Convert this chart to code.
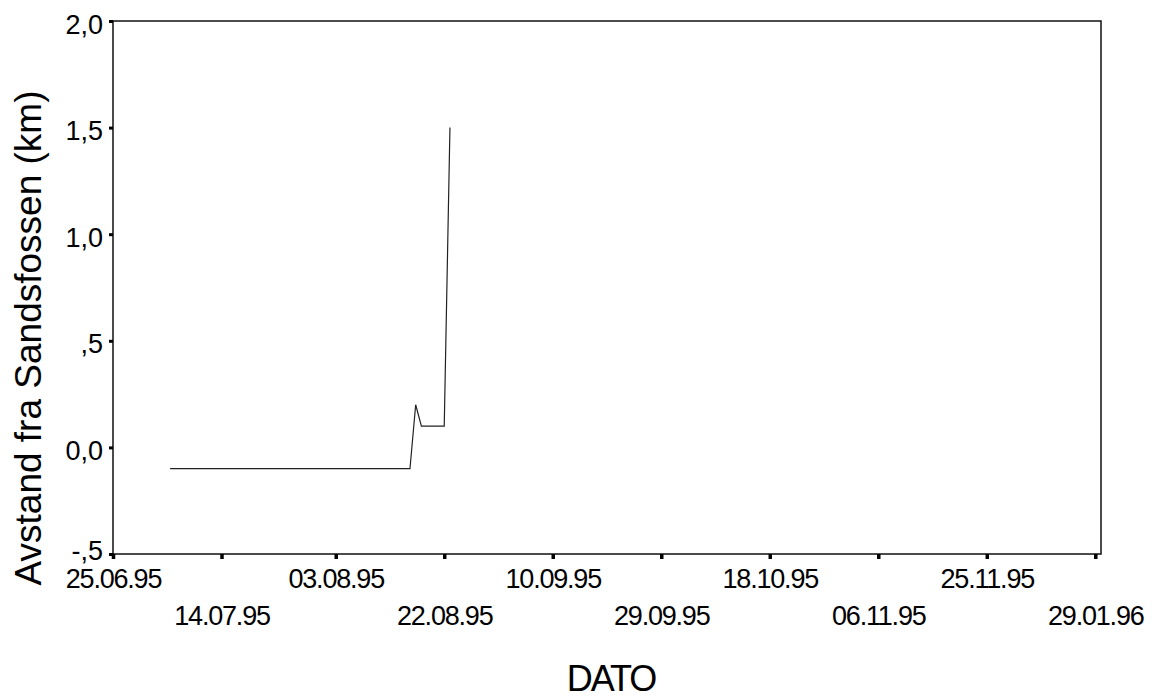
<!DOCTYPE html>
<html>
<head>
<meta charset="utf-8">
<script src="https://cdn.jsdelivr.net/npm/d3@7"></script>
<style>
  body { margin: 0; background: #fff; }
  text { font-family: "Liberation Sans", Arial, sans-serif; fill: #000; }
</style>
</head>
<body>
<div class="container"></div>
<script>
// data
var dates = ['05.07.95', '16.08.95', '17.08.95', '18.08.95', '22.08.95', '23.08.95'];
var avstand = [-0.1, -0.1, 0.2, 0.1, 0.1, 1.5];

var xTickDates = ['25.06.95', '14.07.95', '03.08.95', '22.08.95', '10.09.95',
  '29.09.95', '18.10.95', '06.11.95', '25.11.95', '14.12.95'];
var xTickLabels = ['25.06.95', '14.07.95', '03.08.95', '22.08.95', '10.09.95',
  '29.09.95', '18.10.95', '06.11.95', '25.11.95', '29.01.96'];
var yTicks = [-0.5, 0, 0.5, 1, 1.5, 2];
var yTickLabels = ['-,5', '0,0', ',5', '1,0', '1,5', '2,0'];

var parse = d3.timeParse('%d.%m.%y');

var width = 1152,
  height = 698;
var margin = { top: 21, right: 51, bottom: 144, left: 113 };

var svg = d3
  .select('.container')
  .append('svg')
  .attr('width', width)
  .attr('height', height);

var x = d3
  .scaleTime()
  .domain([parse('25.06.95'), parse('15.12.95')])
  .range([margin.left, width - margin.right]);

var y = d3
  .scaleLinear()
  .domain([-0.5, 2])
  .range([height - margin.bottom, margin.top]);

// frame
svg
  .append('rect')
  .attr('x', x.range()[0])
  .attr('y', y.range()[1])
  .attr('width', x.range()[1] - x.range()[0])
  .attr('height', y.range()[0] - y.range()[1])
  .attr('fill', 'none')
  .attr('stroke', '#111')
  .attr('stroke-width', 1.5);

// y axis
var yAxis = d3
  .axisLeft(y)
  .tickValues(yTicks)
  .tickSize(4)
  .tickPadding(6)
  .tickFormat(function (d, i) {
    return yTickLabels[i];
  });

var gy = svg
  .append('g')
  .attr('transform', 'translate(' + margin.left + ',0)')
  .call(yAxis);
gy.select('.domain').remove();
gy.selectAll('.tick line').attr('stroke', '#000').attr('stroke-width', 3);
gy.selectAll('.tick text')
  .attr('font-size', 27)
  .attr('dy', function (d, i) {
    return i === 0 ? '0.2em' : '0.45em';
  })
  .style('font-family', '"Liberation Sans", Arial, sans-serif');

// x axis
var xAxis = d3
  .axisBottom(x)
  .tickValues(xTickDates.map(parse))
  .tickSize(5)
  .tickFormat(function (d, i) {
    return xTickLabels[i];
  });

var gx = svg
  .append('g')
  .attr('transform', 'translate(0,' + y.range()[0] + ')')
  .call(xAxis);
gx.select('.domain').remove();
gx.selectAll('.tick line').attr('stroke', '#000').attr('stroke-width', 3.5);
gx.selectAll('.tick text')
  .attr('font-size', 27)
  .attr('letter-spacing', -1.2)
  .attr('dy', null)
  .attr('y', function (d, i) {
    return i % 2 === 0 ? 34 : 71;
  })
  .style('font-family', '"Liberation Sans", Arial, sans-serif');

// line
var line = d3
  .line()
  .x(function (d, i) {
    return x(parse(d));
  })
  .y(function (d, i) {
    return y(avstand[i]);
  });

svg
  .append('path')
  .attr('d', line(dates))
  .attr('fill', 'none')
  .attr('stroke', '#222')
  .attr('stroke-width', 1.2);

// axis titles
svg
  .append('text')
  .attr('transform', 'translate(41,' + 338 + ') rotate(-90)')
  .attr('text-anchor', 'middle')
  .attr('font-size', 37)
  .text('Avstand fra Sandsfossen (km)');

svg
  .append('text')
  .attr('x', 611)
  .attr('y', 691)
  .attr('text-anchor', 'middle')
  .attr('font-size', 36)
  .attr('letter-spacing', -2)
  .text('DATO');
</script>
</body>
</html>
